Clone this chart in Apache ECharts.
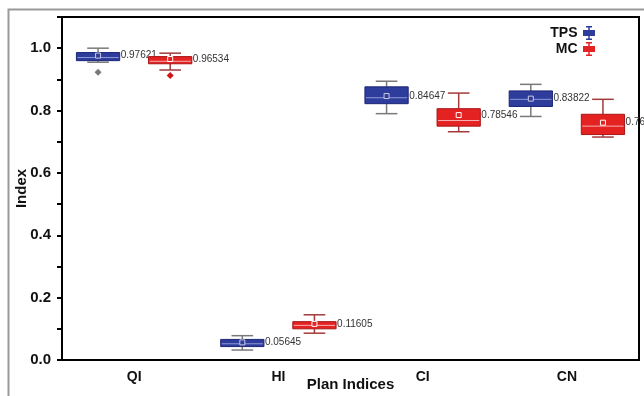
<!DOCTYPE html>
<html>
<head>
<meta charset="utf-8">
<script src="https://cdn.jsdelivr.net/npm/echarts@6/dist/echarts.min.js"></script>
<style>html,body{margin:0;padding:0;background:#fff}#c{width:644px;height:396px}</style>
</head>
<body>
<div id="c"></div>
<script>
// ---- data ----
var categories = ['QI', 'HI', 'CI', 'CN'];
var tpsMin     = [0.955, 0.032, 0.790, 0.781];
var tpsQ1      = [0.960, 0.043, 0.822, 0.813];
var tpsMedian  = [0.970, 0.052, 0.841, 0.836];
var tpsQ3      = [0.986, 0.066, 0.876, 0.863];
var tpsMax     = [1.000, 0.078, 0.894, 0.884];
var tpsMean    = [0.97621, 0.05645, 0.84647, 0.83822];
var tpsOutlier = [0.923, null, null, null];

var mcMin      = [0.930, 0.086, 0.732, 0.715];
var mcQ1       = [0.950, 0.100, 0.750, 0.723];
var mcMedian   = [0.958, 0.111, 0.768, 0.750];
var mcQ3       = [0.973, 0.123, 0.806, 0.788];
var mcMax      = [0.984, 0.145, 0.856, 0.836];
var mcMean     = [0.96534, 0.11605, 0.78546, 0.76100];
var mcOutlier  = [0.912, null, null, null];

var yTicks = [0, 0.2, 0.4, 0.6, 0.8, 1.0];

function rows(mn, q1, md, q3, mx, mean, out) {
  return categories.map(function (c, i) {
    return [i, mn[i], q1[i], md[i], q3[i], mx[i], mean[i], out[i] == null ? NaN : out[i]];
  });
}

function makeRender(side, st) {
  return function (params, api) {
    var ci = api.value(0);
    var band = api.size([1, 0])[0];
    var cx = api.coord([ci, 0])[0] + side * band / 4;
    var bw = band * 0.3;
    var Y = function (d) { return api.coord([ci, api.value(d)])[1]; };
    var yMin = Y(1), yQ1 = Y(2), yMed = Y(3), yQ3 = Y(4), yMax = Y(5), yMean = Y(6);
    var cap = bw / 2;
    var ch = [];
    var ws = { stroke: st.whisker, lineWidth: 1.5 };
    ch.push({ type: 'line', shape: { x1: cx, y1: yMax, x2: cx, y2: yQ3 }, style: ws });
    ch.push({ type: 'line', shape: { x1: cx, y1: yQ1, x2: cx, y2: yMin }, style: ws });
    ch.push({ type: 'line', shape: { x1: cx - cap / 2, y1: yMax, x2: cx + cap / 2, y2: yMax }, style: ws });
    ch.push({ type: 'line', shape: { x1: cx - cap / 2, y1: yMin, x2: cx + cap / 2, y2: yMin }, style: ws });
    ch.push({ type: 'rect', shape: { x: cx - bw / 2, y: yQ3, width: bw, height: yQ1 - yQ3 },
      style: { fill: st.fill, stroke: st.border, lineWidth: 1 } });
    ch.push({ type: 'line', shape: { x1: cx - bw / 2 + 1, y1: yMed, x2: cx + bw / 2 - 1, y2: yMed },
      style: { stroke: st.median, lineWidth: 1 } });
    ch.push({ type: 'rect', shape: { x: cx - 2.5, y: yMean - 2.5, width: 5, height: 5 },
      style: { fill: st.fill, stroke: st.meanStroke, lineWidth: 1 } });
    var ov = api.value(7);
    if (!isNaN(ov)) {
      var yo = api.coord([ci, ov])[1];
      ch.push({ type: 'polygon', shape: { points: [[cx, yo - 3.5], [cx + 3.5, yo], [cx, yo + 3.5], [cx - 3.5, yo]] },
        style: { fill: st.outlier } });
    }
    ch.push({ type: 'text', x: cx + bw / 2 + 1, y: yMean,
      style: { text: api.value(6).toFixed(5), fill: '#333', font: '10px "Liberation Sans", Arial, sans-serif',
        textAlign: 'left', textVerticalAlign: 'middle' } });
    return { type: 'group', children: ch };
  };
}

var tpsStyle = { fill: '#2e3c9c', border: '#1c2778', whisker: '#7a7a7a', median: '#8e9ad8', meanStroke: '#c8cbe0', outlier: '#7a7a7a' };
var mcStyle  = { fill: '#e42222', border: '#a81616', whisker: '#a33a3a', median: '#f6b0b0', meanStroke: '#ffffff', outlier: '#d01515' };

var font = '"Liberation Sans", Arial, sans-serif';
var chart = echarts.init(document.getElementById('c'));
chart.setOption({
  animation: false,
  backgroundColor: '#fff',
  graphic: [{ type: 'rect', left: 6, top: 7, shape: { width: 800, height: 600 },
    style: { fill: 'none', stroke: '#9a9a9a', lineWidth: 2 }, silent: true }],
  grid: { left: 62, top: 17, right: 5, bottom: 36, show: true, borderColor: '#000', borderWidth: 2,
    backgroundColor: 'transparent', outerBoundsMode: 'none', containLabel: false },
  legend: {
    orient: 'vertical', right: 44, top: 21, align: 'right', itemGap: 2, itemWidth: 13, itemHeight: 14,
    textStyle: { fontFamily: font, fontWeight: 'bold', fontSize: 14, color: '#111' },
    data: [
      { name: 'TPS', icon: 'path://M3,0H9V1.5H6.75V4H12V10H6.75V12.5H9V14H3V12.5H5.25V10H0V4H5.25V1.5H3Z' },
      { name: 'MC', icon: 'path://M3,0H9V1.5H6.75V4H12V10H6.75V12.5H9V14H3V12.5H5.25V10H0V4H5.25V1.5H3Z' }
    ]
  },
  xAxis: {
    type: 'category', data: categories, boundaryGap: true,
    axisLine: { lineStyle: { color: '#000', width: 2 } },
    axisTick: { show: false },
    axisLabel: { fontFamily: font, fontWeight: 'bold', fontSize: 14, color: '#111', margin: 10 },
    name: 'Plan Indices', nameLocation: 'middle', nameGap: 17, nameMoveOverlap: false,
    nameTextStyle: { fontFamily: font, fontWeight: 'bold', fontSize: 15, color: '#111' },
    splitLine: { show: false }
  },
  yAxis: {
    type: 'value', min: 0, max: 1.1, interval: 0.1,
    axisLine: { show: true, lineStyle: { color: '#000', width: 2 } },
    axisTick: { show: true, length: 5, lineStyle: { color: '#000', width: 2 } },
    axisLabel: {
      fontFamily: font, fontWeight: 'bold', fontSize: 15, color: '#111', margin: 11,
      formatter: function (v) {
        for (var i = 0; i < yTicks.length; i++) if (Math.abs(yTicks[i] - v) < 1e-6) return yTicks[i].toFixed(1);
        return '';
      }
    },
    splitLine: { show: false },
    name: 'Index', nameLocation: 'middle', nameGap: 33, nameMoveOverlap: false,
    nameTextStyle: { fontFamily: font, fontWeight: 'bold', fontSize: 15, color: '#111' }
  },
  series: [
    { name: 'TPS', type: 'custom', itemStyle: { color: '#2e3c9c' }, clip: false,
      renderItem: makeRender(-1, tpsStyle), encode: { x: 0, y: [1, 2, 3, 4, 5] },
      data: rows(tpsMin, tpsQ1, tpsMedian, tpsQ3, tpsMax, tpsMean, tpsOutlier) },
    { name: 'MC', type: 'custom', itemStyle: { color: '#e42222' }, clip: false,
      renderItem: makeRender(1, mcStyle), encode: { x: 0, y: [1, 2, 3, 4, 5] },
      data: rows(mcMin, mcQ1, mcMedian, mcQ3, mcMax, mcMean, mcOutlier) }
  ]
});
</script>
</body>
</html>
